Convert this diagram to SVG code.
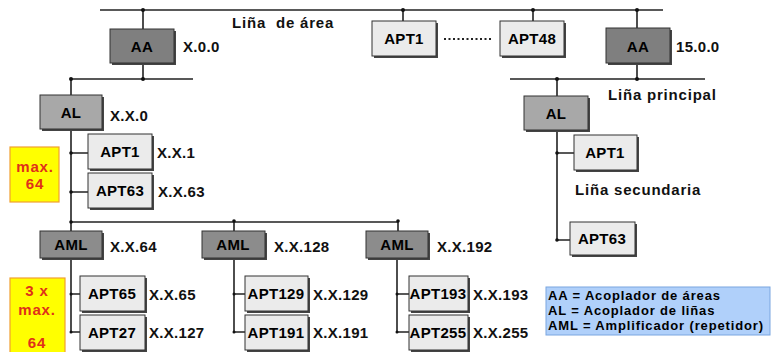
<svg xmlns="http://www.w3.org/2000/svg" width="775" height="352" viewBox="0 0 775 352">
<defs>
<style>
text{font-family:"Liberation Sans",Arial,sans-serif;font-weight:bold;}
.ln{stroke:#222;stroke-width:1.6;fill:none;}
.sh{fill:#444;}
.b{stroke:#333;stroke-width:1;}
.aa{fill:#7f7f7f;}
.al{fill:#a8a8a8;}
.aml{fill:#8c8c8c;}
.apt{fill:#ebebeb;}
.t{font-size:15px;fill:#000;text-anchor:middle;letter-spacing:0.3px;}
.lb{font-size:15px;fill:#111;letter-spacing:0.3px;}
.ll{font-size:15px;fill:#111;letter-spacing:0.8px;}
.y{fill:#ffff00;stroke:#f0a030;stroke-width:1.2;}
.r{font-size:15px;fill:#e0301a;text-anchor:middle;letter-spacing:0.8px;}
.lg{font-size:13px;fill:#000;letter-spacing:0.85px;}
.dot{fill:#111;}
</style>
</defs>
<rect width="775" height="352" fill="#fff"/>
<g id="connectors">
<path class="ln" d="M100 10H663"/>
<path class="ln" d="M143 10V29M143 63V79M70 79H193M71 79V95"/>
<path class="ln" d="M403 10V21M533 10V21M637 10V28M637 63V79M510 79H705M557 79V96"/>
<path class="ln" d="M71 129V231M71 153H88M71 192H88M71 222H398M234 222V231M398 222V231"/>
<path class="ln" d="M557 130V240M557 153H574M557 240H570"/>
<path class="ln" d="M71 258V332M71 294H80M71 332H80"/>
<path class="ln" d="M234 258V332M234 294H245M234 332H245"/>
<path class="ln" d="M397 258V332M397 294H409M397 332H409"/>
<path d="M444 39H492" stroke="#222" stroke-width="2" stroke-dasharray="2 2.5"/>
<g class="dot">
<circle cx="143" cy="10" r="2"/><circle cx="403" cy="10" r="2"/><circle cx="533" cy="10" r="2"/><circle cx="637" cy="10" r="2"/>
<circle cx="143" cy="79" r="2"/><circle cx="71" cy="79" r="2"/><circle cx="637" cy="79" r="2"/><circle cx="557" cy="79" r="2"/>
<circle cx="71" cy="153" r="1.8"/><circle cx="71" cy="192" r="1.8"/><circle cx="71" cy="222" r="1.8"/><circle cx="234" cy="221" r="1.8"/><circle cx="398" cy="221" r="1.8"/>
<circle cx="557" cy="153" r="1.8"/><circle cx="557" cy="240" r="1.8"/>
<circle cx="71" cy="294" r="1.5"/><circle cx="71" cy="332" r="1.5"/><circle cx="234" cy="294" r="1.5"/><circle cx="234" cy="332" r="1.5"/><circle cx="397" cy="294" r="1.5"/><circle cx="397" cy="332" r="1.5"/>
</g>
</g>
<text class="ll" x="232" y="28" xml:space="preserve">Liña  de área</text>
<text class="ll" x="608" y="100">Liña principal</text>
<text class="ll" x="575" y="195">Liña secundaria</text>

<g id="AA1"><rect class="sh" x="112" y="31" width="64" height="34"/><rect class="aa b" x="110" y="29" width="64" height="34"/><text class="t" x="142" y="52">AA</text><text class="lb" x="183" y="52">X.0.0</text></g>
<g id="APT1top"><rect class="sh" x="374" y="23" width="64" height="35"/><rect class="apt b" x="372" y="21" width="64" height="35"/><text class="t" x="404" y="44">APT1</text></g>
<g id="APT48top"><rect class="sh" x="502" y="23" width="64" height="35"/><rect class="apt b" x="500" y="21" width="64" height="35"/><text class="t" x="532" y="44">APT48</text></g>
<g id="AA2"><rect class="sh" x="608" y="30" width="64" height="35"/><rect class="aa b" x="606" y="28" width="64" height="35"/><text class="t" x="638" y="52">AA</text><text class="lb" x="676" y="52">15.0.0</text></g>

<g id="AL1"><rect class="sh" x="42" y="97" width="62" height="34"/><rect class="al b" x="40" y="95" width="62" height="34"/><text class="t" x="71" y="118">AL</text><text class="lb" x="110" y="121">X.X.0</text></g>
<g id="AL2"><rect class="sh" x="526" y="98" width="64" height="34"/><rect class="al b" x="524" y="96" width="64" height="34"/><text class="t" x="556" y="119">AL</text></g>

<g id="APT1a"><rect class="sh" x="90" y="136" width="64" height="35"/><rect class="apt b" x="88" y="134" width="64" height="35"/><text class="t" x="120" y="157">APT1</text><text class="lb" x="157" y="158">X.X.1</text></g>
<g id="APT63a"><rect class="sh" x="90" y="175" width="64" height="35"/><rect class="apt b" x="88" y="173" width="64" height="35"/><text class="t" x="120" y="196">APT63</text><text class="lb" x="158" y="197">X.X.63</text></g>
<g id="max64"><rect class="y" x="10" y="147" width="49" height="55"/><text class="r" x="35" y="172">max.</text><text class="r" x="35" y="189">64</text></g>

<g id="APT1b"><rect class="sh" x="576" y="137" width="63" height="35"/><rect class="apt b" x="574" y="135" width="63" height="35"/><text class="t" x="605" y="158">APT1</text></g>
<g id="APT63b"><rect class="sh" x="572" y="224" width="65" height="33"/><rect class="apt b" x="570" y="222" width="65" height="33"/><text class="t" x="602" y="244">APT63</text></g>

<g id="AML1"><rect class="sh" x="42" y="233" width="62" height="27"/><rect class="aml b" x="40" y="231" width="62" height="27"/><text class="t" x="71" y="250">AML</text><text class="lb" x="110" y="252">X.X.64</text></g>
<g id="AML2"><rect class="sh" x="204" y="233" width="63" height="27"/><rect class="aml b" x="202" y="231" width="63" height="27"/><text class="t" x="233" y="250">AML</text><text class="lb" x="274" y="252">X.X.128</text></g>
<g id="AML3"><rect class="sh" x="368" y="233" width="62" height="27"/><rect class="aml b" x="366" y="231" width="62" height="27"/><text class="t" x="397" y="250">AML</text><text class="lb" x="437" y="252">X.X.192</text></g>

<g id="max3x64"><rect class="y" x="10" y="278" width="55" height="80"/><text class="r" x="37" y="296">3 x</text><text class="r" x="37" y="315">max.</text><text class="r" x="37" y="348">64</text></g>

<g id="APT65"><rect class="sh" x="82" y="278" width="65" height="35"/><rect class="apt b" x="80" y="276" width="65" height="35"/><text class="t" x="112" y="299">APT65</text><text class="lb" x="149" y="300">X.X.65</text></g>
<g id="APT27"><rect class="sh" x="82" y="317" width="65" height="35"/><rect class="apt b" x="80" y="315" width="65" height="35"/><text class="t" x="112" y="338">APT27</text><text class="lb" x="149" y="338">X.X.127</text></g>
<g id="APT129"><rect class="sh" x="247" y="278" width="63" height="35"/><rect class="apt b" x="245" y="276" width="63" height="35"/><text class="t" x="276" y="299">APT129</text><text class="lb" x="313" y="300">X.X.129</text></g>
<g id="APT191"><rect class="sh" x="247" y="317" width="63" height="35"/><rect class="apt b" x="245" y="315" width="63" height="35"/><text class="t" x="276" y="338">APT191</text><text class="lb" x="313" y="338">X.X.191</text></g>
<g id="APT193"><rect class="sh" x="411" y="278" width="59" height="35"/><rect class="apt b" x="409" y="276" width="59" height="35"/><text class="t" x="438" y="299">APT193</text><text class="lb" x="473" y="300">X.X.193</text></g>
<g id="APT255"><rect class="sh" x="411" y="317" width="59" height="35"/><rect class="apt b" x="409" y="315" width="59" height="35"/><text class="t" x="438" y="338">APT255</text><text class="lb" x="473" y="338">X.X.255</text></g>

<g id="legend"><rect x="546" y="287" width="224" height="48" fill="#b0d0fa" stroke="#7aa6e0" stroke-width="1"/>
<text class="lg" x="548" y="300">AA = Acoplador de áreas</text>
<text class="lg" x="548" y="315">AL = Acoplador de liñas</text>
<text class="lg" x="548" y="330">AML = Amplificador (repetidor)</text></g>
</svg>
